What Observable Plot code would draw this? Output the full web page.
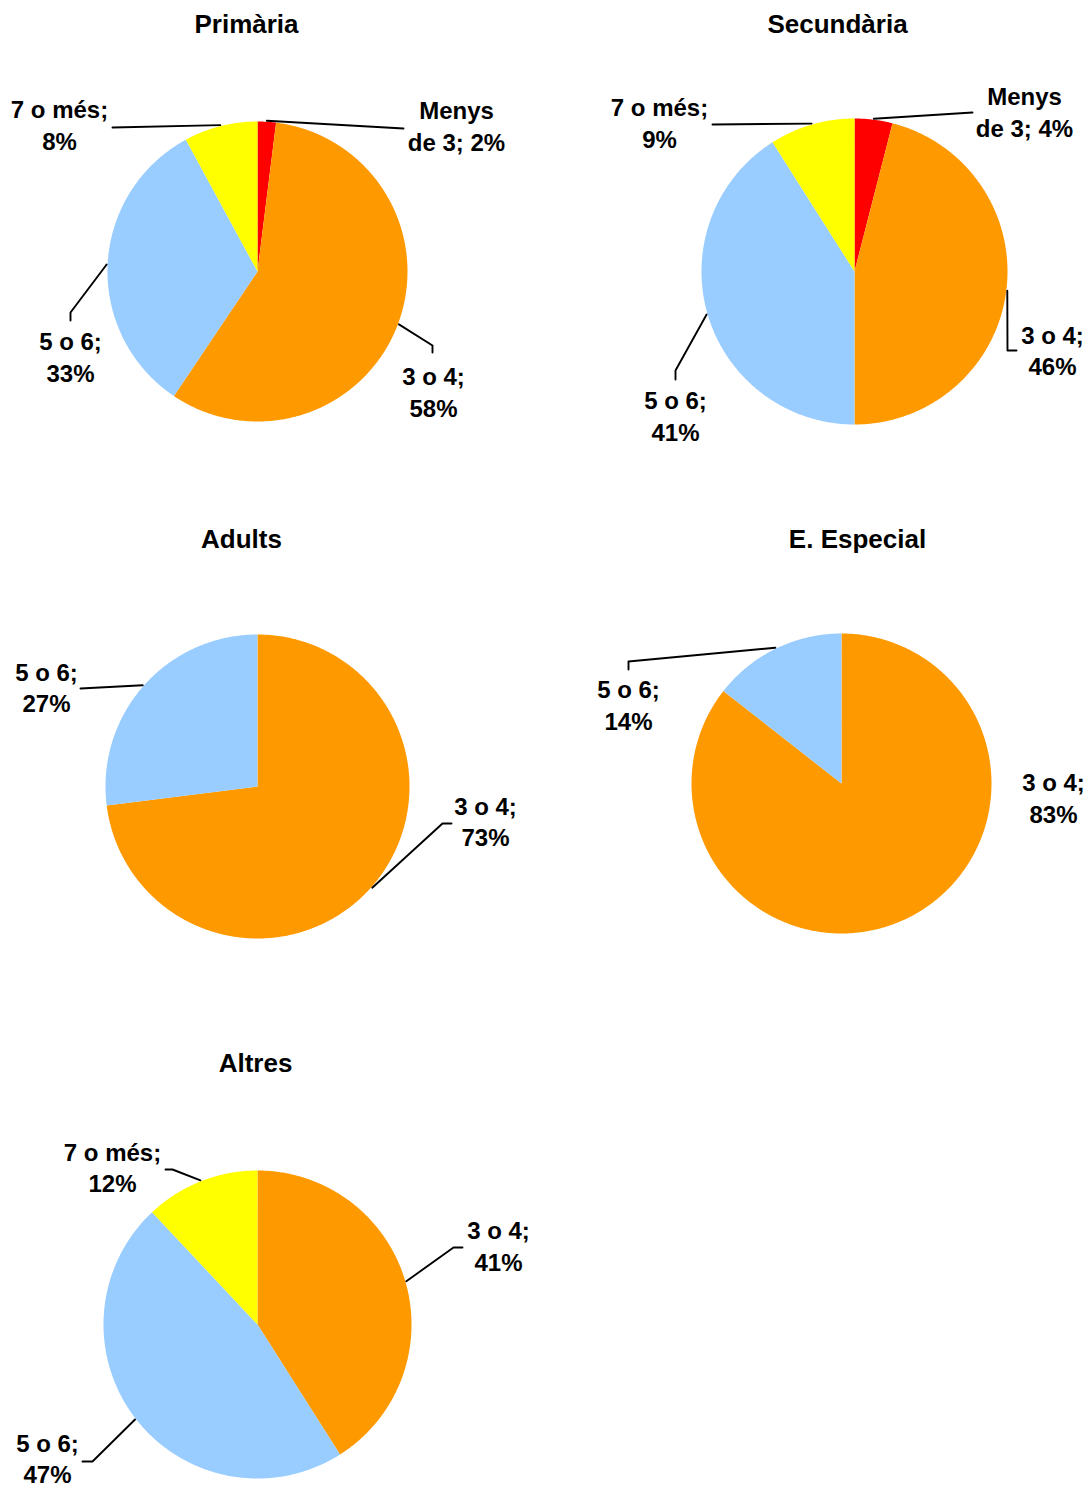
<!DOCTYPE html>
<html>
<head>
<meta charset="utf-8">
<script src="https://cdn.jsdelivr.net/npm/d3@7"></script>
<script src="https://cdn.jsdelivr.net/npm/@observablehq/plot@0.6"></script>
<style>
  html, body { margin: 0; padding: 0; background: #ffffff; }
  #chart svg { display: block; }
</style>
</head>
<body>
<div id="chart"></div>
<script>
// ---------- DATA ----------
const groups = ["Primària", "Secundària", "Adults", "E. Especial", "Altres"];
const categories = ["Menys de 3", "3 o 4", "5 o 6", "7 o més"];
const categoryColors = ["#FF0000", "#FF9900", "#99CCFF", "#FFFF00"];
const valuesPrimaria   = [2, 58, 33, 8];
const valuesSecundaria = [4, 46, 41, 9];
const valuesAdults     = [0, 73, 27, 0];
const valuesEspecial   = [0, 83, 14, 0];
const valuesAltres     = [0, 41, 47, 12];
const seriesValues = [valuesPrimaria, valuesSecundaria, valuesAdults, valuesEspecial, valuesAltres];

// ---------- LAYOUT (pixel positions of pies, titles, labels, leader knees) ----------
const W = 1092, H = 1488;
const layout = [
  { cx: 257, cy: 271, r: 150, title: [246, 24],
    labels: {
      "Menys de 3": { at: [456, 126.5], path: [[403, 128]] },
      "3 o 4":      { at: [433, 392.5], path: [[432, 345], [432, 352]] },
      "5 o 6":      { at: [70, 357.5],  path: [[70, 312], [70, 320]] },
      "7 o més":    { at: [59, 125.5],  path: [[112, 127]] }
    } },
  { cx: 854, cy: 271, r: 153, title: [837, 24],
    labels: {
      "Menys de 3": { at: [1024, 112.5], path: [[972, 112]] },
      "3 o 4":      { at: [1052, 351],   path: [[1007, 350], [1016, 350]] },
      "5 o 6":      { at: [675, 416.5],  path: [[675, 370], [675, 379]] },
      "7 o més":    { at: [659, 123.5],  path: [[712, 124]] }
    } },
  { cx: 257, cy: 786, r: 152, title: [241, 539],
    labels: {
      "3 o 4": { at: [485, 822], path: [[442, 823], [451, 823]] },
      "5 o 6": { at: [46, 688],  path: [[80, 688]] }
    } },
  { cx: 841, cy: 783, r: 150, title: [857, 539],
    labels: {
      "3 o 4": { at: [1053, 798.5], path: null },
      "5 o 6": { at: [628, 705.5],  path: [[628, 661], [628, 669]] }
    } },
  { cx: 257, cy: 1324, r: 154, title: [255, 1063],
    labels: {
      "3 o 4":   { at: [498, 1246.5], path: [[453, 1247], [462, 1247]] },
      "5 o 6":   { at: [47, 1459],    path: [[92, 1461], [82, 1461]] },
      "7 o més": { at: [112, 1168],   path: [[172, 1169], [165, 1169]] }
    } }
];

// ---------- BUILD TABLES ----------
const slicePoints = [];
const leaderPoints = [];
const labelRows = [];
const titleRows = [];
const pie = d3.pie().sort(null).startAngle(0).endAngle(2 * Math.PI);

groups.forEach((g, gi) => {
  const L = layout[gi];
  titleRows.push({ x: L.title[0], y: L.title[1], text: g });
  const vals = seriesValues[gi];
  const items = categories.map((c, ci) => ({ cat: c, value: vals[ci] })).filter(d => d.value > 0);
  const arcs = pie.value(d => d.value)(items);
  arcs.forEach((a) => {
    const id = g + "|" + a.data.cat;
    slicePoints.push({ id, cat: a.data.cat, x: L.cx, y: L.cy });
    const steps = Math.max(2, Math.ceil((a.endAngle - a.startAngle) / (Math.PI / 360)));
    for (let k = 0; k <= steps; k++) {
      const t = a.startAngle + (a.endAngle - a.startAngle) * k / steps;
      slicePoints.push({ id, cat: a.data.cat, x: L.cx + L.r * Math.sin(t), y: L.cy - L.r * Math.cos(t) });
    }
    const lab = L.labels[a.data.cat];
    if (lab) {
      const txt = a.data.cat === "Menys de 3"
        ? "Menys\nde 3; " + a.data.value + "%"
        : a.data.cat + ";\n" + a.data.value + "%";
      labelRows.push({ x: lab.at[0], y: lab.at[1], text: txt });
      if (lab.path) {
        const mid = (a.startAngle + a.endAngle) / 2;
        const rr = L.r + 1;
        leaderPoints.push({ id, x: L.cx + rr * Math.sin(mid), y: L.cy - rr * Math.cos(mid) });
        lab.path.forEach(p => leaderPoints.push({ id, x: p[0], y: p[1] }));
      }
    }
  });
});

const font = "'Liberation Sans', Arial, Helvetica, sans-serif";

const chart = Plot.plot({
  width: W,
  height: H,
  margin: 0,
  x: { domain: [0, W], range: [0, W], axis: null },
  y: { domain: [0, H], range: [0, H], axis: null },
  color: { domain: categories, range: categoryColors },
  style: { background: "#ffffff", fontFamily: font },
  marks: [
    Plot.line(slicePoints, { x: "x", y: "y", z: "id", fill: "cat", stroke: "none", curve: "linear-closed" }),
    Plot.line(leaderPoints, { x: "x", y: "y", z: "id", stroke: "#000000", strokeWidth: 1.9, fill: "none" }),
    Plot.text(labelRows, { x: "x", y: "y", dy: -2, text: "text", fontSize: 24, fontWeight: "bold", fill: "#000000", lineHeight: 1.3, lineAnchor: "middle", fontFamily: font }),
    Plot.text(titleRows, { x: "x", y: "y", text: "text", fontSize: 26, fontWeight: "bold", fill: "#000000", fontFamily: font })
  ]
});
document.getElementById("chart").appendChild(chart);
</script>
</body>
</html>
